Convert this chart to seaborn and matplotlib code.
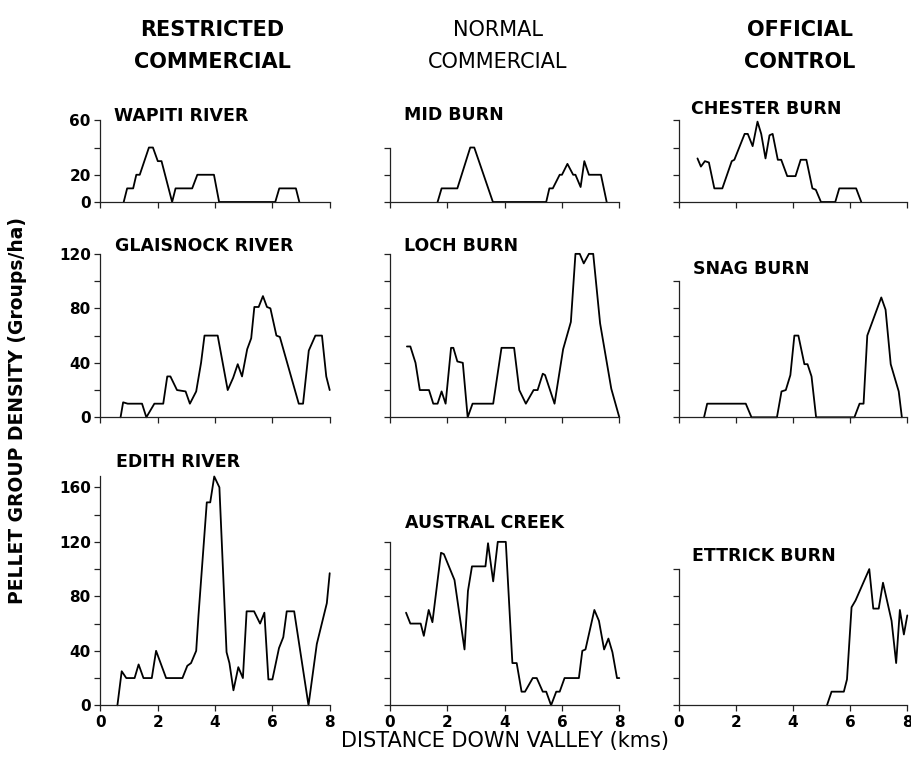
import matplotlib
matplotlib.use("Agg")
import matplotlib.pyplot as plt
import seaborn as sns
import pandas as pd

sns.set_style("ticks")
plt.rcParams['font.family'] = ['DejaVu Sans']
plt.rcParams['text.color'] = 'black'
plt.rcParams['xtick.color'] = 'black'
plt.rcParams['ytick.color'] = 'black'
plt.rcParams['axes.edgecolor'] = 'black'

# ---------------- data (distance km, density groups/ha) ----------------
wapiti_x = [0.81, 0.93, 1.14, 1.25, 1.37, 1.69, 1.83, 2.0, 2.13, 2.5, 2.62, 3.2, 3.38, 3.96, 4.14, 6.1, 6.24, 6.82, 6.94]
wapiti_y = [0, 10, 10, 20, 20, 40, 40, 30, 30, 0, 10, 10, 20, 20, 0, 0, 10, 10, 0]

mid_x = [1.66, 1.8, 2.35, 2.8, 2.94, 3.59, 5.45, 5.56, 5.68, 5.92, 6.0, 6.19, 6.39, 6.47, 6.65, 6.78, 6.94, 7.36, 7.56]
mid_y = [0, 10, 10, 40, 40, 0, 0, 10, 10, 20, 20, 28, 20, 20, 11, 30, 20, 20, 0]

chester_x = [0.66, 0.78, 0.92, 1.06, 1.25, 1.53, 1.86, 1.95, 2.31, 2.42, 2.59, 2.76, 2.89, 3.04, 3.18, 3.29,
             3.47, 3.59, 3.8, 4.09, 4.27, 4.47, 4.68, 4.8, 4.98, 5.48, 5.62, 6.21, 6.39]
chester_y = [32, 26, 30, 29, 10, 10, 30, 31, 50, 50, 41, 59, 50, 32, 49, 50,
             31, 31, 19, 19, 31, 31, 10, 9, 0, 0, 10, 10, 0]

glaisnock_x = [0.7, 0.79, 0.95, 1.45, 1.6, 1.88, 2.19, 2.33, 2.44, 2.67, 2.97, 3.12, 3.34, 3.51, 3.63, 4.09,
               4.44, 4.63, 4.79, 4.94, 5.12, 5.26, 5.37, 5.52, 5.67, 5.81, 5.93, 6.14, 6.26, 6.92, 7.07,
               7.27, 7.5, 7.73, 7.88, 8.0]
glaisnock_y = [0, 11, 10, 10, 0, 10, 10, 30, 30, 20, 19, 10, 19, 40, 60, 60,
               20, 29, 39, 30, 50, 58, 81, 81, 89, 81, 80, 60, 59, 10, 10,
               49, 60, 60, 30, 20]

loch_x = [0.59, 0.71, 0.89, 1.04, 1.36, 1.51, 1.66, 1.8, 1.94, 2.13, 2.21, 2.35, 2.54, 2.71, 2.88, 3.6,
          3.89, 4.33, 4.51, 4.74, 5.01, 5.15, 5.33, 5.41, 5.74, 6.04, 6.31, 6.47, 6.62, 6.76, 6.94,
          7.09, 7.33, 7.72, 8.0]
loch_y = [52, 52, 40, 20, 20, 10, 10, 19, 10, 51, 51, 41, 40, 0, 10, 10,
          51, 51, 20, 10, 20, 20, 32, 31, 10, 50, 70, 120, 120, 113, 120,
          120, 69, 21, 0]

snag_x = [0.89, 1.0, 2.35, 2.55, 3.44, 3.6, 3.75, 3.91, 4.05, 4.19, 4.4, 4.51, 4.65, 4.81, 6.15, 6.33,
          6.47, 6.6, 7.09, 7.24, 7.42, 7.7, 7.81]
snag_y = [0, 10, 10, 0, 0, 19, 20, 31, 60, 60, 39, 39, 30, 0, 0, 10,
          10, 60, 88, 79, 39, 19, 0]

edith_x = [0.59, 0.74, 0.9, 1.19, 1.33, 1.5, 1.79, 1.94, 2.29, 2.86, 3.03, 3.16, 3.34, 3.42, 3.71, 3.83,
           3.97, 4.15, 4.4, 4.5, 4.64, 4.81, 4.97, 5.1, 5.36, 5.57, 5.72, 5.86, 6.0, 6.23, 6.38, 6.5,
           6.76, 7.26, 7.55, 7.9, 8.0]
edith_y = [0, 25, 20, 20, 30, 20, 20, 40, 20, 20, 29, 31, 40, 66, 149, 149,
           168, 160, 39, 31, 11, 28, 20, 69, 69, 60, 68, 19, 19, 42, 50, 69,
           69, 0, 45, 75, 97]

austral_x = [0.56, 0.71, 1.07, 1.18, 1.35, 1.48, 1.78, 1.88, 2.25, 2.6, 2.72, 2.86, 3.33, 3.42, 3.6, 3.76,
             4.04, 4.27, 4.42, 4.59, 4.71, 4.98, 5.12, 5.33, 5.45, 5.62, 5.8, 5.92, 6.09, 6.59, 6.71,
             6.82, 7.13, 7.29, 7.47, 7.62, 7.76, 7.92, 8.0]
austral_y = [68, 60, 60, 51, 70, 61, 112, 111, 92, 41, 84, 102, 102, 119, 91, 120,
             120, 31, 31, 10, 10, 20, 20, 10, 10, 0, 10, 10, 20, 20, 40,
             41, 70, 62, 41, 49, 39, 20, 20]

ettrick_x = [5.19, 5.35, 5.78, 5.89, 6.05, 6.19, 6.67, 6.81, 7.0, 7.15, 7.45, 7.61, 7.74, 7.88, 8.0]
ettrick_y = [0, 10, 10, 19, 72, 77, 100, 71, 71, 90, 62, 31, 70, 52, 66]

col_titles = ["RESTRICTED\nCOMMERCIAL", "NORMAL\nCOMMERCIAL", "OFFICIAL\nCONTROL"]
x_ticks = [0, 2, 4, 6, 8]

panels = [
    # name, x, y, col, row, ylim top, title (left px, baseline px)
    ("WAPITI RIVER", wapiti_x, wapiti_y, 0, 0, 60, (114, 121)),
    ("MID BURN", mid_x, mid_y, 1, 0, 40, (404, 120)),
    ("CHESTER BURN", chester_x, chester_y, 2, 0, 60, (691, 114)),
    ("GLAISNOCK RIVER", glaisnock_x, glaisnock_y, 0, 1, 120, (115, 251)),
    ("LOCH BURN", loch_x, loch_y, 1, 1, 120, (404, 251)),
    ("SNAG BURN", snag_x, snag_y, 2, 1, 100, (693, 274)),
    ("EDITH RIVER", edith_x, edith_y, 0, 2, 168, (116, 467)),
    ("AUSTRAL CREEK", austral_x, austral_y, 1, 2, 120, (405, 528)),
    ("ETTRICK BURN", ettrick_x, ettrick_y, 2, 2, 100, (692, 561)),
]
y_labels = {
    0: [0, 20, 60],
    1: [0, 40, 80, 120],
    2: [0, 40, 80, 120, 160],
}

# ---------------- layout in pixels ----------------
W, H = 912, 769
col_px = [(100.5, 329.7), (390.0, 619.3), (678.6, 907.3)]
row_bottom_px = [202.0, 417.3, 705.3]
px_per_unit = 1.362

fig = plt.figure(figsize=(W / 100, H / 100), dpi=100)

tick_font = dict(fontsize=11, fontweight="bold")
for name, xs, ys, c, r, ytop, (tx, tb) in panels:
    x0, x1 = col_px[c]
    yb = row_bottom_px[r]
    yt = yb - ytop * px_per_unit
    ax = fig.add_axes([x0 / W, 1 - yb / H, (x1 - x0) / W, (yb - yt) / H])
    df = pd.DataFrame({"dist": xs, "dens": ys})
    sns.lineplot(data=df, x="dist", y="dens", ax=ax, color="black", linewidth=1.3,
                 estimator=None, sort=False)
    for ln in ax.lines:
        ln.set_clip_on(False)
    ax.set_xlim(0, 8)
    ax.set_ylim(0, ytop)
    ax.set_xlabel("")
    ax.set_ylabel("")
    sns.despine(ax=ax)
    for sp in ("left", "bottom"):
        ax.spines[sp].set_linewidth(0.9)
        ax.spines[sp].set_color("#222222")
    ax.set_xticks(x_ticks)
    yt_all = list(range(0, int(ytop) + 1, 20))
    ax.set_yticks(yt_all)
    ax.tick_params(axis="both", direction="out", length=4, width=0.9, color="#222222", pad=3)
    if c == 0:
        labs = [str(v) if v in y_labels[r] else "" for v in yt_all]
        ax.set_yticklabels(labs, **tick_font)
    else:
        ax.set_yticklabels([])
    if r == 2:
        ax.set_xticklabels([str(v) for v in x_ticks], **tick_font)
    else:
        ax.set_xticklabels([])
    # panel title
    fig.text(tx / W, 1 - tb / H, name, fontsize=12.5, fontweight="bold",
             ha="left", va="baseline")

# column headers
header_x = [212, 498, 800]
for hx, t in zip(header_x, col_titles):
    weight = "normal" if t.startswith("NORMAL") else "bold"
    fig.text(hx / W, 1 - 46 / H, t, fontsize=15, fontweight=weight, ha="center", va="center",
             linespacing=1.75)

fig.text(18 / W, 1 - 410 / H, "PELLET GROUP DENSITY (Groups/ha)", rotation=90, fontsize=13.5,
         fontweight="bold", ha="center", va="center")
fig.text(505 / W, 1 - 741 / H, "DISTANCE DOWN VALLEY (kms)", fontsize=15, ha="center",
         va="center")

fig.savefig("out.png", dpi=100)
